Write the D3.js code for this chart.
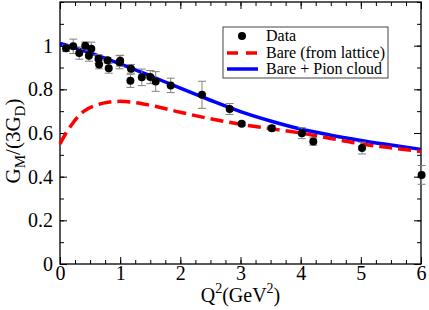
<!DOCTYPE html>
<meta charset="utf-8">
<style>
    body{ margin:0; background:white; }
    text{ font-family: "Liberation Serif", "Times New Roman", serif; }
</style>
<script src="https://d3js.org/d3.v7.min.js"></script>
<div id="chart"></div>
<script>
// measured points
var dataQ2  = [0.1, 0.22, 0.32, 0.42, 0.48, 0.52, 0.64, 0.65, 0.79, 0.81, 0.99, 1.0, 1.17, 1.18, 1.36, 1.5, 1.59, 1.84, 2.36, 2.82, 3.02, 3.52, 4.02, 4.21, 5.02, 6.01];
var dataGM  = [0.988, 0.997, 0.966, 1.0, 0.954, 0.986, 0.939, 0.914, 0.933, 0.896, 0.924, 0.931, 0.839, 0.894, 0.855, 0.856, 0.836, 0.818, 0.775, 0.71, 0.642, 0.622, 0.599, 0.561, 0.531, 0.408];
var dataErr = [0.015, 0.033, 0.028, 0.017, 0.025, 0.03, 0.02, 0.02, 0.012, 0.022, 0.03, 0.025, 0.03, 0.02, 0.038, 0.03, 0.045, 0.033, 0.062, 0.025, 0.008, 0.012, 0.025, 0.017, 0.027, 0.043];

// bare (from lattice)
var bareQ2 = [0, 0.1, 0.2, 0.3, 0.4, 0.6, 0.8, 1.0, 1.2, 1.5, 2.0, 2.5, 3.0, 3.5, 4.0, 4.5, 5.0, 5.5, 6.0];
var bareGM = [0.55, 0.60, 0.64, 0.675, 0.70, 0.727, 0.741, 0.745, 0.741, 0.727, 0.695, 0.665, 0.64, 0.62, 0.60, 0.575, 0.55, 0.532, 0.515];

// bare + pion cloud
var pionQ2 = [0, 0.25, 0.5, 1.0, 1.5, 2.0, 2.5, 3.0, 3.5, 4.0, 4.5, 5.0, 5.5, 6.0];
var pionGM = [1.01, 0.99, 0.967, 0.917, 0.862, 0.805, 0.75, 0.698, 0.655, 0.618, 0.59, 0.566, 0.545, 0.525];

var xTicks = [0, 1, 2, 3, 4, 5, 6];
var yTicks = [0, 0.2, 0.4, 0.6, 0.8, 1];
var legendLabels = ["Data", "Bare (from lattice)", "Bare + Pion cloud"];

var W = 429, H = 310;
var m = {left: 60, right: 421, top: 2, bottom: 264};

var svg = d3.select("#chart").append("svg")
    .attr("width", W).attr("height", H);

var x = d3.scaleLinear().domain([0, 6]).range([m.left, m.right]);
var y = d3.scaleLinear().domain([0, 1.2]).range([m.bottom, m.top]);

var xMinor = d3.range(0, 6.001, 0.25);
var yMinor = d3.range(0, 1.2001, 0.1);

function styleAxis(g){
    g.select(".domain").remove();
    g.selectAll(".tick line").attr("stroke", "black").attr("stroke-width", 1);
    g.selectAll(".tick text").attr("fill", "black").style("font-size", "20px")
        .style("font-family", "Liberation Serif");
}

// minor ticks, all four sides
svg.append("g").attr("transform", `translate(0,${m.bottom})`)
    .call(d3.axisBottom(x).tickValues(xMinor).tickSize(-4).tickFormat("")).call(styleAxis);
svg.append("g").attr("transform", `translate(0,${m.top})`)
    .call(d3.axisTop(x).tickValues(xMinor).tickSize(-4).tickFormat("")).call(styleAxis);
svg.append("g").attr("transform", `translate(${m.left},0)`)
    .call(d3.axisLeft(y).tickValues(yMinor).tickSize(-4).tickFormat("")).call(styleAxis);
svg.append("g").attr("transform", `translate(${m.right},0)`)
    .call(d3.axisRight(y).tickValues(yMinor).tickSize(-4).tickFormat("")).call(styleAxis);

// major ticks
svg.append("g").attr("transform", `translate(0,${m.bottom})`)
    .call(d3.axisBottom(x).tickValues(xTicks).tickSize(-7).tickPadding(2).tickFormat(d3.format("d"))).call(styleAxis);
svg.append("g").attr("transform", `translate(0,${m.top})`)
    .call(d3.axisTop(x).tickValues(xTicks).tickSize(-7).tickFormat("")).call(styleAxis);
svg.append("g").attr("transform", `translate(${m.left},0)`)
    .call(d3.axisLeft(y).tickValues(yTicks).tickSize(-7).tickPadding(7).tickFormat(function(d){ return d === 0 || d === 1 ? d : d.toFixed(1); })).call(styleAxis);
svg.append("g").attr("transform", `translate(${m.right},0)`)
    .call(d3.axisRight(y).tickValues(yTicks).tickSize(-7).tickFormat("")).call(styleAxis);

// frame
svg.append("rect")
    .attr("x", m.left).attr("y", m.top)
    .attr("width", m.right - m.left).attr("height", m.bottom - m.top)
    .attr("fill", "none").attr("stroke", "black").attr("stroke-width", 1.3);

var line = d3.line()
    .x(function(d){ return x(d[0]); })
    .y(function(d){ return y(d[1]); })
    .curve(d3.curveMonotoneX);

svg.append("path")
    .datum(d3.zip(pionQ2, pionGM))
    .attr("d", line)
    .attr("fill", "none").attr("stroke", "#0000ff").attr("stroke-width", 3.5);

svg.append("path")
    .datum(d3.zip(bareQ2, bareGM))
    .attr("d", line)
    .attr("fill", "none").attr("stroke", "#ff0000").attr("stroke-width", 3.5)
    .attr("stroke-dasharray", "13,6");

// error bars
var pts = d3.zip(dataQ2, dataGM, dataErr);
var eb = svg.append("g").attr("stroke", "#808080").attr("stroke-width", 1);
eb.selectAll(".v").data(pts).join("line")
    .attr("x1", function(d){ return x(d[0]); }).attr("x2", function(d){ return x(d[0]); })
    .attr("y1", function(d){ return y(d[1] - d[2]); }).attr("y2", function(d){ return y(d[1] + d[2]); });
eb.selectAll(".t").data(pts).join("line")
    .attr("x1", function(d){ return x(d[0]) - 4; }).attr("x2", function(d){ return x(d[0]) + 4; })
    .attr("y1", function(d){ return y(d[1] + d[2]); }).attr("y2", function(d){ return y(d[1] + d[2]); });
eb.selectAll(".b").data(pts).join("line")
    .attr("x1", function(d){ return x(d[0]) - 4; }).attr("x2", function(d){ return x(d[0]) + 4; })
    .attr("y1", function(d){ return y(d[1] - d[2]); }).attr("y2", function(d){ return y(d[1] - d[2]); });

svg.append("g").selectAll("circle").data(pts).join("circle")
    .attr("cx", function(d){ return x(d[0]); })
    .attr("cy", function(d){ return y(d[1]); })
    .attr("r", 4).attr("fill", "black");

// legend
var lg = svg.append("g");
lg.append("rect").attr("x", 223).attr("y", 27).attr("width", 165).attr("height", 51)
    .attr("fill", "white").attr("stroke", "#444").attr("stroke-width", 1);
lg.append("circle").attr("cx", 242).attr("cy", 36).attr("r", 4).attr("fill", "black");
lg.append("line").attr("x1", 227).attr("x2", 258).attr("y1", 53).attr("y2", 53)
    .attr("stroke", "#ff0000").attr("stroke-width", 3.5).attr("stroke-dasharray", "11,8");
lg.append("line").attr("x1", 227).attr("x2", 258).attr("y1", 69).attr("y2", 69)
    .attr("stroke", "#0000ff").attr("stroke-width", 3.5);
lg.selectAll("text").data(legendLabels).join("text")
    .attr("x", 266).attr("y", function(d, i){ return 41 + i * 16.5; })
    .style("font-size", "16px").text(function(d){ return d; });

// axis titles
var xt = svg.append("text").attr("x", (m.left + m.right) / 2).attr("y", 302)
    .attr("text-anchor", "middle").style("font-size", "20px");
xt.append("tspan").text("Q");
xt.append("tspan").attr("dy", -9).style("font-size", "14px").text("2");
xt.append("tspan").attr("dy", 9).text("(GeV");
xt.append("tspan").attr("dy", -9).style("font-size", "14px").text("2");
xt.append("tspan").attr("dy", 9).text(")");

var yt = svg.append("text")
    .attr("transform", `translate(20,141) rotate(-90)`)
    .attr("text-anchor", "middle").style("font-size", "21px");
yt.append("tspan").text("G");
yt.append("tspan").attr("dy", 5).style("font-size", "15px").text("M");
yt.append("tspan").attr("dy", -5).text("/(3G");
yt.append("tspan").attr("dy", 5).style("font-size", "15px").text("D");
yt.append("tspan").attr("dy", -5).text(")");
</script>
